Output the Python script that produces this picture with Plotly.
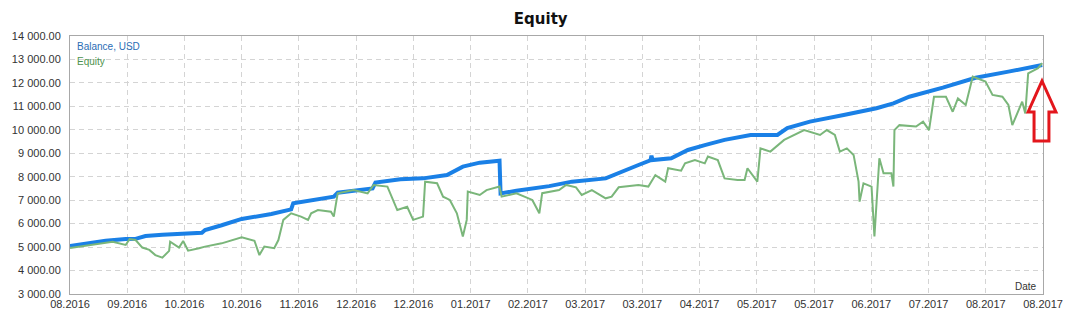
import plotly.graph_objects as go

# ---- data (x = days since 16.08.2016) ----
balance_days = [0, 13.7, 21.4, 25.2, 29.0, 35.5, 50.7, 51.9, 58.3, 66.0, 77.4, 85.0, 85.8, 92.7,
                101.4, 102.9, 116.3, 117.4, 127.0, 135.7, 144.9, 151.0, 157.5, 165.1, 165.5, 171.6,
                184.2, 192.9, 205.9, 218.5, 223.1, 223.5, 223.9, 231.1, 237.5, 244.0, 251.6, 261.6,
                271.9, 275.7, 284.4, 297.4, 310.0, 316.5, 322.6, 335.5, 348.1, 360.7, 373.7]
balance_usd = [5050, 5270, 5340, 5350, 5470, 5530, 5610, 5730, 5930, 6200, 6410, 6610, 6870, 7010,
               7150, 7320, 7500, 7750, 7890, 7930, 8070, 8430, 8600, 8680, 7290, 7400,
               7600, 7790, 7930, 8500, 8700, 8900, 8710, 8790, 9140, 9350, 9570, 9780,
               9780, 10070, 10350, 10630, 10920, 11130, 11410, 11800, 12220, 12480, 12760]

equity_days = [0, 16.4, 21.4, 22.9, 25.2, 27.8, 30.5, 32.8, 35.5, 38.1, 38.5, 41.9, 43.5, 45.4, 49.6,
               51.9, 58.3, 66.0, 70.9, 72.8, 74.7, 78.5, 80.1, 82.0, 85.0, 88.8, 91.5, 92.7, 95.3,
               100.3, 101.4, 102.9, 109.0, 114.4, 116.7, 122.0, 125.8, 129.6, 131.9, 135.7, 136.5,
               141.1, 143.4, 146.0, 148.7, 151.0, 152.5, 152.9, 157.5, 160.1, 165.1, 165.9, 171.6,
               177.7, 180.4, 181.5, 188.0, 190.7, 194.5, 196.7, 200.6, 205.9, 208.2, 210.9, 218.5,
               222.3, 225.0, 228.8, 229.9, 234.9, 236.4, 240.2, 244.0, 245.2, 249.0, 251.6, 256.6,
               259.3, 260.4, 264.2, 265.4, 269.2, 274.5, 275.7, 282.2, 288.3, 290.9, 294.0, 295.9,
               298.6, 301.2, 303.1, 303.5, 305.0, 308.1, 309.2, 311.1, 312.7, 315.7, 316.5, 316.9,
               318.8, 325.2, 327.9, 330.2, 332.1, 336.7, 339.3, 341.3, 344.3, 347.0, 351.9, 354.6,
               358.4, 360.7, 362.2, 366.0, 367.2, 368.3, 372.1, 373.7]
equity_usd = [4960, 5230, 5090, 5340, 5300, 4980, 4880, 4660, 4550, 4840, 5230, 4980, 5260, 4850, 4950,
              5020, 5160, 5420, 5270, 4660, 5020, 4950, 5300, 6160, 6440, 6300, 6160, 6440, 6580,
              6510, 6300, 7290, 7430, 7290, 7650, 7580, 6580, 6720, 6160, 6300, 7790,
              7720, 7150, 7010, 6440, 5450, 6160, 7370, 7220, 7430, 7580, 7150, 7290,
              7010, 6440, 7300, 7430, 7650, 7550, 7220, 7430, 7080, 7150, 7550, 7650,
              7580, 8070, 7790, 8360, 8260, 8570, 8710, 8570, 8860, 8710, 7930, 7860,
              7860, 8360, 7790, 9210, 9070, 9570, 9640, 9990, 9780, 9990, 9780, 9070,
              9210, 8930, 7790, 6940, 7720, 7580, 5450, 8790, 8150, 8150, 7580, 9990,
              10200, 10140, 10350, 9990, 11410, 11410, 10770, 11340, 11060, 12270, 12060, 11490,
              11410, 11060, 10200, 11200, 10700, 12410, 12630, 12840]

x_tick_days = [0, 22, 44, 66, 88, 110, 132, 154, 176, 198, 220, 242, 264, 286, 308, 330, 352, 374]
x_tick_labels = ["08.2016", "09.2016", "10.2016", "10.2016", "11.2016", "12.2016", "12.2016",
                 "01.2017", "02.2017", "03.2017", "03.2017", "04.2017", "05.2017", "05.2017",
                 "06.2017", "07.2017", "08.2017", "08.2017"]
y_tick_vals = [3000, 4000, 5000, 6000, 7000, 8000, 9000, 10000, 11000, 12000, 13000, 14000]
y_tick_labels = ["3 000.00", "4 000.00", "5 000.00", "6 000.00", "7 000.00", "8 000.00",
                 "9 000.00", "10 000.00", "11 000.00", "12 000.00", "13 000.00", "14 000.00"]

BLUE = "#1a80e6"
GREEN = "#7ab67a"
FONT = "Liberation Sans"

fig = go.Figure()
fig.add_trace(go.Scatter(x=balance_days, y=balance_usd, mode="lines", name="Balance, USD",
                         line=dict(color=BLUE, width=4), hoverinfo="skip"))
fig.add_trace(go.Scatter(x=equity_days, y=equity_usd, mode="lines", name="Equity",
                         line=dict(color=GREEN, width=2), hoverinfo="skip"))

W, H = 1075, 324
L, R, T, B = 67, 27, 36, 30
pw, ph = W - L - R, H - T - B


def px(x, y):
    return (x - L) / pw, (H - B - y) / ph


arrow_px = [(1047, 81), (1061, 112), (1054, 112), (1054, 141), (1039, 141), (1039, 112), (1033, 112)]
pts = [px(a, b) for a, b in arrow_px]
path = "M " + " L ".join(f"{a:.4f},{b:.4f}" for a, b in pts) + " Z"

fig.update_layout(
    width=W, height=H,
    margin=dict(l=L, r=R, t=T, b=B),
    paper_bgcolor="white", plot_bgcolor="white",
    showlegend=False,
    title=dict(text="<b>Equity</b>", x=0.503, xref="container", xanchor="center",
               y=1 - 19 / H, yref="container", yanchor="middle",
               font=dict(family="DejaVu Sans", size=15, color="#111")),
    font=dict(family=FONT, size=11, color="#333"),
    xaxis=dict(range=[0, 374], tickvals=x_tick_days, ticktext=x_tick_labels,
               showgrid=True, gridcolor="#d4d4d4", griddash="5px,4px", gridwidth=1,
               showline=True, linecolor="#a8a8a8", linewidth=1, mirror=True,
               ticks="", zeroline=False, tickfont=dict(family=FONT, size=11, color="#333")),
    yaxis=dict(range=[3000, 14000], tickvals=y_tick_vals, ticktext=y_tick_labels,
               showgrid=True, gridcolor="#d4d4d4", griddash="5px,4px", gridwidth=1,
               showline=True, linecolor="#a8a8a8", linewidth=1, mirror=True,
               ticks="", zeroline=False, ticklabelstandoff=6,
               tickfont=dict(family=FONT, size=11, color="#333")),
    annotations=[
        dict(text="Balance, USD", xref="paper", yref="paper", x=px(72, 47)[0], y=px(72, 47)[1],
             xanchor="left", yanchor="middle", showarrow=False,
             font=dict(family=FONT, size=10, color="#2a6db5")),
        dict(text="Equity", xref="paper", yref="paper", x=px(72, 62)[0], y=px(72, 62)[1],
             xanchor="left", yanchor="middle", showarrow=False,
             font=dict(family=FONT, size=10, color="#4d934d")),
        dict(text="Date", xref="paper", yref="paper", x=px(1044, 286)[0], y=px(1044, 286)[1],
             xanchor="right", yanchor="middle", showarrow=False,
             font=dict(family=FONT, size=10, color="#333")),
    ],
    shapes=[dict(type="path", path=path, xref="paper", yref="paper",
                 line=dict(color="#e3161c", width=3), fillcolor="rgba(0,0,0,0)", layer="above")],
)

fig.write_html("out.html", config={"displayModeBar": False})
